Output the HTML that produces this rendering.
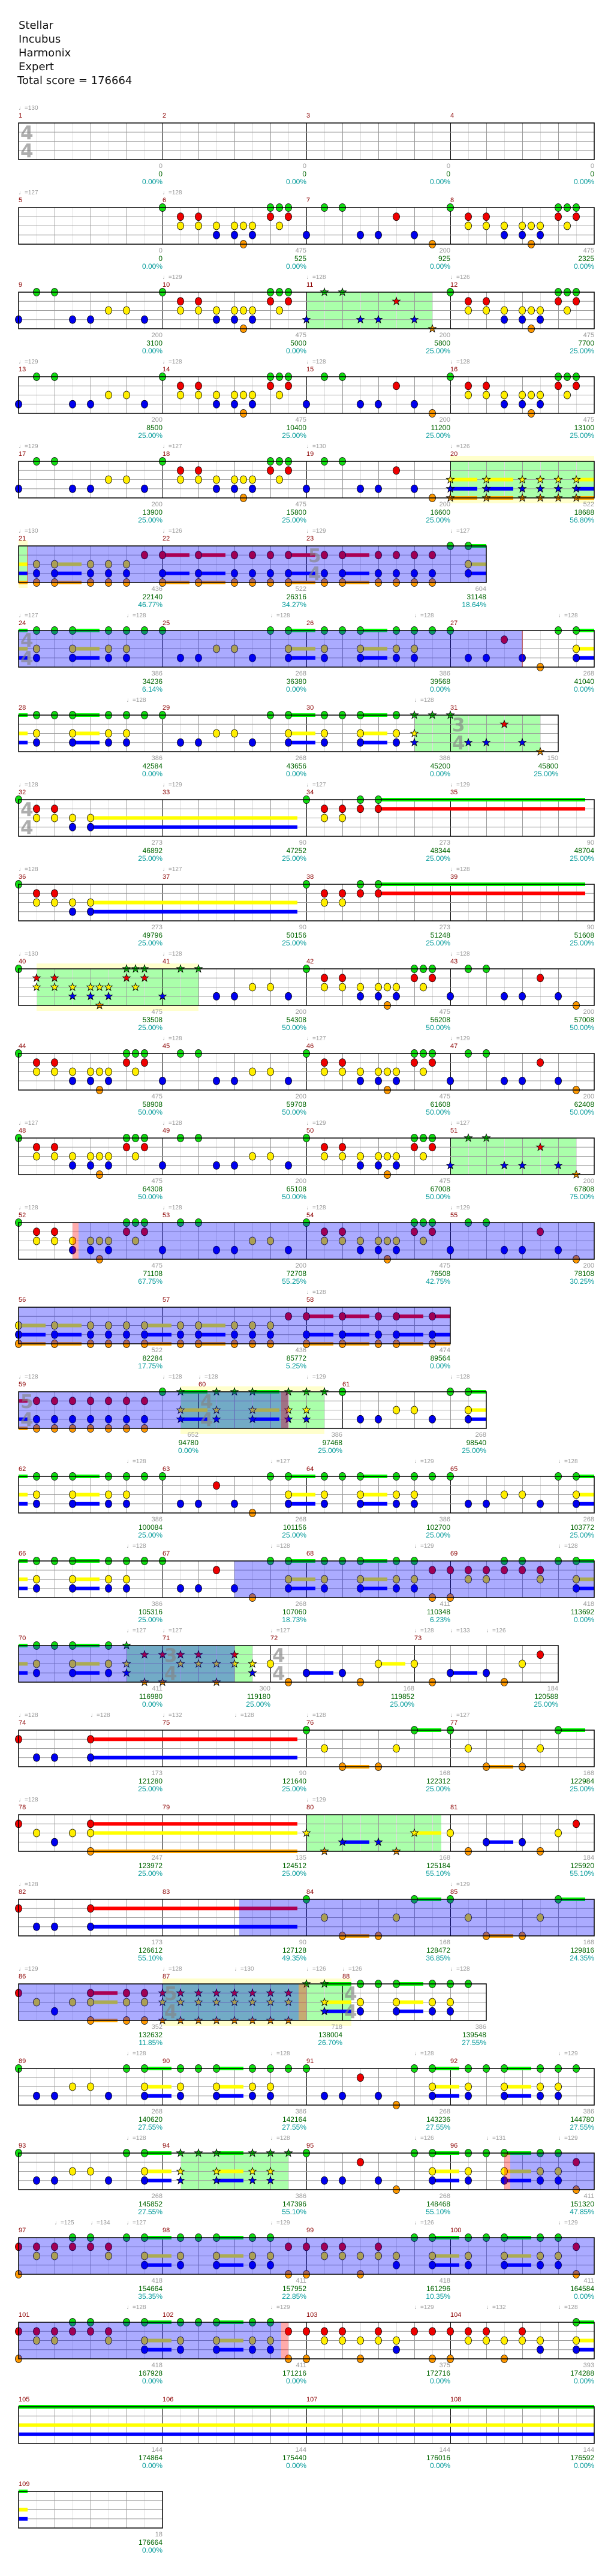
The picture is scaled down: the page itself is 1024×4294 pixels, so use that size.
<!DOCTYPE html>
<html><head><meta charset="utf-8">
<style>
html,body{margin:0;padding:0;background:#fff;}
body{width:1024px;height:4294px;position:relative;overflow:hidden;font-family:"Liberation Sans",sans-serif;}
#hdr{position:absolute;left:31px;top:31px;font:18px/23px "DejaVu Sans","Liberation Sans",sans-serif;color:#111;}
svg{position:absolute;left:0;top:0;}
.row{position:absolute;left:0;width:1024px;height:1px;}
.row span,.row p{position:absolute;white-space:nowrap;}
.t{top:-31px;font-size:10px;line-height:13px;color:#999;font-family:"Liberation Sans Narrow","Liberation Sans","DejaVu Sans",sans-serif;}
.m{top:-18px;font-size:11px;line-height:13px;color:#8b0000;font-family:"Liberation Sans Narrow","Liberation Sans",sans-serif;}
.row p{top:66px;margin:0;transform:translateX(-100%);text-align:right;font-size:11px;line-height:13px;color:#999;font-family:"Liberation Sans Narrow","Liberation Sans",sans-serif;}
.row p b{display:block;font-weight:normal;color:#006400;font-size:12px;}
.row p i{display:block;font-style:normal;color:#009999;font-size:12px;}
.ts{top:2px;font:bold 31px/30px "DejaVu Sans",sans-serif;color:rgba(130,130,130,.65);}
</style></head><body>
<svg id="g" width="1024" height="4294" xmlns="http://www.w3.org/2000/svg"></svg>
<div id="hdr">Stellar<br>Incubus<br>Harmonix<br>Expert<br><span style="margin-left:-2px">Total score = 176664</span></div>

<div class="row" style="top:205px">
<span class="t" style="left:31px">♩=130</span>
<span class="m" style="left:31px">1</span><span class="m" style="left:271px">2</span><span class="m" style="left:511px">3</span><span class="m" style="left:751px">4</span>
<span class="ts" style="left:34px">4<br>4</span>
<p style="left:271px">0<b>0</b><i>0.00%</i></p><p style="left:511px">0<b>0</b><i>0.00%</i></p><p style="left:751px">0<b>0</b><i>0.00%</i></p><p style="left:991px">0<b>0</b><i>0.00%</i></p>
</div>

<div class="row" style="top:346px">
<span class="t" style="left:31px">♩=127</span><span class="t" style="left:271px">♩=128</span>
<span class="m" style="left:31px">5</span><span class="m" style="left:271px">6</span><span class="m" style="left:511px">7</span><span class="m" style="left:751px">8</span>
<p style="left:271px">0<b>0</b><i>0.00%</i></p><p style="left:511px">475<b>525</b><i>0.00%</i></p><p style="left:751px">200<b>925</b><i>0.00%</i></p><p style="left:991px">475<b>2325</b><i>0.00%</i></p>
</div>

<div class="row" style="top:487px">
<span class="t" style="left:271px">♩=129</span><span class="t" style="left:511px">♩=128</span><span class="t" style="left:751px">♩=126</span>
<span class="m" style="left:31px">9</span><span class="m" style="left:271px">10</span><span class="m" style="left:511px">11</span><span class="m" style="left:751px">12</span>
<p style="left:271px">200<b>3100</b><i>0.00%</i></p><p style="left:511px">475<b>5000</b><i>0.00%</i></p><p style="left:751px">200<b>5800</b><i>25.00%</i></p><p style="left:991px">475<b>7700</b><i>25.00%</i></p>
</div>

<div class="row" style="top:628px">
<span class="t" style="left:31px">♩=129</span><span class="t" style="left:271px">♩=128</span><span class="t" style="left:511px">♩=128</span><span class="t" style="left:751px">♩=128</span>
<span class="m" style="left:31px">13</span><span class="m" style="left:271px">14</span><span class="m" style="left:511px">15</span><span class="m" style="left:751px">16</span>
<p style="left:271px">200<b>8500</b><i>25.00%</i></p><p style="left:511px">475<b>10400</b><i>25.00%</i></p><p style="left:751px">200<b>11200</b><i>25.00%</i></p><p style="left:991px">475<b>13100</b><i>25.00%</i></p>
</div>

<div class="row" style="top:769px">
<span class="t" style="left:31px">♩=129</span><span class="t" style="left:271px">♩=127</span><span class="t" style="left:511px">♩=130</span><span class="t" style="left:751px">♩=126</span>
<span class="m" style="left:31px">17</span><span class="m" style="left:271px">18</span><span class="m" style="left:511px">19</span><span class="m" style="left:751px">20</span>
<p style="left:271px">200<b>13900</b><i>25.00%</i></p><p style="left:511px">475<b>15800</b><i>25.00%</i></p><p style="left:751px">200<b>16600</b><i>25.00%</i></p><p style="left:991px">522<b>18688</b><i>56.80%</i></p>
</div>

<div class="row" style="top:910px">
<span class="t" style="left:31px">♩=130</span><span class="t" style="left:271px">♩=126</span><span class="t" style="left:511px">♩=129</span><span class="t" style="left:751px">♩=127</span>
<span class="m" style="left:31px">21</span><span class="m" style="left:271px">22</span><span class="m" style="left:511px">23</span>
<span class="ts" style="left:514px">5<br>4</span>
<p style="left:271px">436<b>22140</b><i>46.77%</i></p><p style="left:511px">522<b>26316</b><i>34.27%</i></p><p style="left:811px">604<b>31148</b><i>18.64%</i></p>
</div>

<div class="row" style="top:1051px">
<span class="t" style="left:31px">♩=127</span><span class="t" style="left:211px">♩=128</span><span class="t" style="left:451px">♩=128</span><span class="t" style="left:691px">♩=128</span><span class="t" style="left:931px">♩=128</span>
<span class="m" style="left:31px">24</span><span class="m" style="left:271px">25</span><span class="m" style="left:511px">26</span><span class="m" style="left:751px">27</span>
<span class="ts" style="left:34px">4<br>4</span>
<p style="left:271px">386<b>34236</b><i>6.14%</i></p><p style="left:511px">268<b>36380</b><i>0.00%</i></p><p style="left:751px">386<b>39568</b><i>0.00%</i></p><p style="left:991px">268<b>41040</b><i>0.00%</i></p>
</div>

<div class="row" style="top:1192px">
<span class="t" style="left:211px">♩=128</span><span class="t" style="left:691px">♩=128</span>
<span class="m" style="left:31px">28</span><span class="m" style="left:271px">29</span><span class="m" style="left:511px">30</span><span class="m" style="left:751px">31</span>
<span class="ts" style="left:754px">3<br>4</span>
<p style="left:271px">386<b>42584</b><i>0.00%</i></p><p style="left:511px">268<b>43656</b><i>0.00%</i></p><p style="left:751px">386<b>45200</b><i>0.00%</i></p><p style="left:931px">150<b>45800</b><i>25.00%</i></p>
</div>

<div class="row" style="top:1333px">
<span class="t" style="left:31px">♩=128</span><span class="t" style="left:271px">♩=129</span><span class="t" style="left:511px">♩=127</span><span class="t" style="left:751px">♩=129</span>
<span class="m" style="left:31px">32</span><span class="m" style="left:271px">33</span><span class="m" style="left:511px">34</span><span class="m" style="left:751px">35</span>
<span class="ts" style="left:34px">4<br>4</span>
<p style="left:271px">273<b>46892</b><i>25.00%</i></p><p style="left:511px">90<b>47252</b><i>25.00%</i></p><p style="left:751px">273<b>48344</b><i>25.00%</i></p><p style="left:991px">90<b>48704</b><i>25.00%</i></p>
</div>

<div class="row" style="top:1474px">
<span class="t" style="left:31px">♩=128</span><span class="t" style="left:271px">♩=127</span><span class="t" style="left:751px">♩=128</span>
<span class="m" style="left:31px">36</span><span class="m" style="left:271px">37</span><span class="m" style="left:511px">38</span><span class="m" style="left:751px">39</span>
<p style="left:271px">273<b>49796</b><i>25.00%</i></p><p style="left:511px">90<b>50156</b><i>25.00%</i></p><p style="left:751px">273<b>51248</b><i>25.00%</i></p><p style="left:991px">90<b>51608</b><i>25.00%</i></p>
</div>

<div class="row" style="top:1615px">
<span class="t" style="left:31px">♩=130</span><span class="t" style="left:271px">♩=128</span><span class="t" style="left:751px">♩=128</span>
<span class="m" style="left:31px">40</span><span class="m" style="left:271px">41</span><span class="m" style="left:511px">42</span><span class="m" style="left:751px">43</span>
<p style="left:271px">475<b>53508</b><i>25.00%</i></p><p style="left:511px">200<b>54308</b><i>50.00%</i></p><p style="left:751px">475<b>56208</b><i>50.00%</i></p><p style="left:991px">200<b>57008</b><i>50.00%</i></p>
</div>

<div class="row" style="top:1756px">
<span class="t" style="left:271px">♩=128</span><span class="t" style="left:511px">♩=127</span><span class="t" style="left:751px">♩=129</span>
<span class="m" style="left:31px">44</span><span class="m" style="left:271px">45</span><span class="m" style="left:511px">46</span><span class="m" style="left:751px">47</span>
<p style="left:271px">475<b>58908</b><i>50.00%</i></p><p style="left:511px">200<b>59708</b><i>50.00%</i></p><p style="left:751px">475<b>61608</b><i>50.00%</i></p><p style="left:991px">200<b>62408</b><i>50.00%</i></p>
</div>

<div class="row" style="top:1897px">
<span class="t" style="left:31px">♩=127</span><span class="t" style="left:271px">♩=128</span><span class="t" style="left:511px">♩=129</span><span class="t" style="left:751px">♩=127</span>
<span class="m" style="left:31px">48</span><span class="m" style="left:271px">49</span><span class="m" style="left:511px">50</span><span class="m" style="left:751px">51</span>
<p style="left:271px">475<b>64308</b><i>50.00%</i></p><p style="left:511px">200<b>65108</b><i>50.00%</i></p><p style="left:751px">475<b>67008</b><i>50.00%</i></p><p style="left:991px">200<b>67808</b><i>75.00%</i></p>
</div>

<div class="row" style="top:2038px">
<span class="t" style="left:31px">♩=128</span><span class="t" style="left:271px">♩=128</span><span class="t" style="left:511px">♩=128</span><span class="t" style="left:751px">♩=129</span>
<span class="m" style="left:31px">52</span><span class="m" style="left:271px">53</span><span class="m" style="left:511px">54</span><span class="m" style="left:751px">55</span>
<p style="left:271px">475<b>71108</b><i>67.75%</i></p><p style="left:511px">200<b>72708</b><i>55.25%</i></p><p style="left:751px">475<b>76508</b><i>42.75%</i></p><p style="left:991px">200<b>78108</b><i>30.25%</i></p>
</div>

<div class="row" style="top:2179px">
<span class="t" style="left:511px">♩=128</span>
<span class="m" style="left:31px">56</span><span class="m" style="left:271px">57</span><span class="m" style="left:511px">58</span>
<p style="left:271px">522<b>82284</b><i>17.75%</i></p><p style="left:511px">436<b>85772</b><i>5.25%</i></p><p style="left:751px">474<b>89564</b><i>0.00%</i></p>
</div>

<div class="row" style="top:2320px">
<span class="t" style="left:31px">♩=128</span><span class="t" style="left:271px">♩=128</span><span class="t" style="left:331px">♩=128</span><span class="t" style="left:511px">♩=129</span><span class="t" style="left:751px">♩=128</span>
<span class="m" style="left:31px">59</span><span class="m" style="left:331px">60</span><span class="m" style="left:571px">61</span>
<span class="ts" style="left:34px">5<br>4</span><span class="ts" style="left:334px">4<br>4</span>
<p style="left:331px">652<b>94780</b><i>0.00%</i></p><p style="left:571px">386<b>97468</b><i>25.00%</i></p><p style="left:811px">268<b>98540</b><i>25.00%</i></p>
</div>

<div class="row" style="top:2461px">
<span class="t" style="left:211px">♩=128</span><span class="t" style="left:451px">♩=127</span><span class="t" style="left:691px">♩=129</span><span class="t" style="left:931px">♩=128</span>
<span class="m" style="left:31px">62</span><span class="m" style="left:271px">63</span><span class="m" style="left:511px">64</span><span class="m" style="left:751px">65</span>
<p style="left:271px">386<b>100084</b><i>25.00%</i></p><p style="left:511px">268<b>101156</b><i>25.00%</i></p><p style="left:751px">386<b>102700</b><i>25.00%</i></p><p style="left:991px">268<b>103772</b><i>25.00%</i></p>
</div>

<div class="row" style="top:2602px">
<span class="t" style="left:211px">♩=128</span><span class="t" style="left:451px">♩=128</span><span class="t" style="left:691px">♩=129</span><span class="t" style="left:931px">♩=128</span>
<span class="m" style="left:31px">66</span><span class="m" style="left:271px">67</span><span class="m" style="left:511px">68</span><span class="m" style="left:751px">69</span>
<p style="left:271px">386<b>105316</b><i>25.00%</i></p><p style="left:511px">268<b>107060</b><i>18.73%</i></p><p style="left:751px">411<b>110348</b><i>6.23%</i></p><p style="left:991px">418<b>113692</b><i>0.00%</i></p>
</div>

<div class="row" style="top:2743px">
<span class="t" style="left:211px">♩=127</span><span class="t" style="left:271px">♩=127</span><span class="t" style="left:451px">♩=127</span><span class="t" style="left:691px">♩=128</span><span class="t" style="left:751px">♩=133</span><span class="t" style="left:811px">♩=126</span>
<span class="m" style="left:31px">70</span><span class="m" style="left:271px">71</span><span class="m" style="left:451px">72</span><span class="m" style="left:691px">73</span>
<span class="ts" style="left:274px">3<br>4</span><span class="ts" style="left:454px">4<br>4</span>
<p style="left:271px">411<b>116980</b><i>0.00%</i></p><p style="left:451px">300<b>119180</b><i>25.00%</i></p><p style="left:691px">168<b>119852</b><i>25.00%</i></p><p style="left:931px">184<b>120588</b><i>25.00%</i></p>
</div>

<div class="row" style="top:2884px">
<span class="t" style="left:31px">♩=128</span><span class="t" style="left:151px">♩=128</span><span class="t" style="left:271px">♩=132</span><span class="t" style="left:391px">♩=128</span><span class="t" style="left:511px">♩=128</span><span class="t" style="left:751px">♩=127</span>
<span class="m" style="left:31px">74</span><span class="m" style="left:271px">75</span><span class="m" style="left:511px">76</span><span class="m" style="left:751px">77</span>
<p style="left:271px">173<b>121280</b><i>25.00%</i></p><p style="left:511px">90<b>121640</b><i>25.00%</i></p><p style="left:751px">168<b>122312</b><i>25.00%</i></p><p style="left:991px">168<b>122984</b><i>25.00%</i></p>
</div>

<div class="row" style="top:3025px">
<span class="t" style="left:31px">♩=128</span><span class="t" style="left:511px">♩=129</span>
<span class="m" style="left:31px">78</span><span class="m" style="left:271px">79</span><span class="m" style="left:511px">80</span><span class="m" style="left:751px">81</span>
<p style="left:271px">247<b>123972</b><i>25.00%</i></p><p style="left:511px">135<b>124512</b><i>25.00%</i></p><p style="left:751px">168<b>125184</b><i>55.10%</i></p><p style="left:991px">184<b>125920</b><i>55.10%</i></p>
</div>

<div class="row" style="top:3166px">
<span class="t" style="left:31px">♩=128</span><span class="t" style="left:751px">♩=129</span>
<span class="m" style="left:31px">82</span><span class="m" style="left:271px">83</span><span class="m" style="left:511px">84</span><span class="m" style="left:751px">85</span>
<p style="left:271px">173<b>126612</b><i>55.10%</i></p><p style="left:511px">90<b>127128</b><i>49.35%</i></p><p style="left:751px">168<b>128472</b><i>36.85%</i></p><p style="left:991px">168<b>129816</b><i>24.35%</i></p>
</div>

<div class="row" style="top:3307px">
<span class="t" style="left:31px">♩=129</span><span class="t" style="left:271px">♩=128</span><span class="t" style="left:391px">♩=130</span><span class="t" style="left:511px">♩=126</span><span class="t" style="left:571px">♩=126</span><span class="t" style="left:751px">♩=128</span>
<span class="m" style="left:31px">86</span><span class="m" style="left:271px">87</span><span class="m" style="left:571px">88</span>
<span class="ts" style="left:274px">5<br>4</span><span class="ts" style="left:574px">4<br>4</span>
<p style="left:271px">352<b>132632</b><i>11.85%</i></p><p style="left:571px">718<b>138004</b><i>26.70%</i></p><p style="left:811px">386<b>139548</b><i>27.55%</i></p>
</div>

<div class="row" style="top:3448px">
<span class="t" style="left:211px">♩=128</span><span class="t" style="left:451px">♩=128</span><span class="t" style="left:691px">♩=128</span><span class="t" style="left:931px">♩=129</span>
<span class="m" style="left:31px">89</span><span class="m" style="left:271px">90</span><span class="m" style="left:511px">91</span><span class="m" style="left:751px">92</span>
<p style="left:271px">268<b>140620</b><i>27.55%</i></p><p style="left:511px">386<b>142164</b><i>27.55%</i></p><p style="left:751px">268<b>143236</b><i>27.55%</i></p><p style="left:991px">386<b>144780</b><i>27.55%</i></p>
</div>

<div class="row" style="top:3589px">
<span class="t" style="left:211px">♩=128</span><span class="t" style="left:451px">♩=128</span><span class="t" style="left:691px">♩=126</span><span class="t" style="left:811px">♩=131</span><span class="t" style="left:931px">♩=129</span>
<span class="m" style="left:31px">93</span><span class="m" style="left:271px">94</span><span class="m" style="left:511px">95</span><span class="m" style="left:751px">96</span>
<p style="left:271px">268<b>145852</b><i>27.55%</i></p><p style="left:511px">386<b>147396</b><i>55.10%</i></p><p style="left:751px">268<b>148468</b><i>55.10%</i></p><p style="left:991px">411<b>151320</b><i>47.85%</i></p>
</div>

<div class="row" style="top:3730px">
<span class="t" style="left:91px">♩=125</span><span class="t" style="left:151px">♩=134</span><span class="t" style="left:211px">♩=127</span><span class="t" style="left:451px">♩=129</span><span class="t" style="left:691px">♩=126</span><span class="t" style="left:931px">♩=129</span>
<span class="m" style="left:31px">97</span><span class="m" style="left:271px">98</span><span class="m" style="left:511px">99</span><span class="m" style="left:751px">100</span>
<p style="left:271px">418<b>154664</b><i>35.35%</i></p><p style="left:511px">411<b>157952</b><i>22.85%</i></p><p style="left:751px">418<b>161296</b><i>10.35%</i></p><p style="left:991px">411<b>164584</b><i>0.00%</i></p>
</div>

<div class="row" style="top:3871px">
<span class="t" style="left:211px">♩=128</span><span class="t" style="left:451px">♩=129</span><span class="t" style="left:691px">♩=129</span><span class="t" style="left:811px">♩=132</span><span class="t" style="left:931px">♩=128</span>
<span class="m" style="left:31px">101</span><span class="m" style="left:271px">102</span><span class="m" style="left:511px">103</span><span class="m" style="left:751px">104</span>
<p style="left:271px">418<b>167928</b><i>0.00%</i></p><p style="left:511px">411<b>171216</b><i>0.00%</i></p><p style="left:751px">375<b>172716</b><i>0.00%</i></p><p style="left:991px">393<b>174288</b><i>0.00%</i></p>
</div>

<div class="row" style="top:4012px">
<span class="m" style="left:31px">105</span><span class="m" style="left:271px">106</span><span class="m" style="left:511px">107</span><span class="m" style="left:751px">108</span>
<p style="left:271px">144<b>174864</b><i>0.00%</i></p><p style="left:511px">144<b>175440</b><i>0.00%</i></p><p style="left:751px">144<b>176016</b><i>0.00%</i></p><p style="left:991px">144<b>176592</b><i>0.00%</i></p>
</div>

<div class="row" style="top:4153px">
<span class="m" style="left:31px">109</span>
<p style="left:271px">18<b>176664</b><i>0.00%</i></p>
</div>

<script>
(function(){
var A="0G 2RY 4RY 6YB 8YB 9YO 10YB 12GR 13GY 14GR",
B="0B 2G 4G 6B 8B 10R 12B 14O",
C="0B 2G 4G 6B 8B 10Y 12Y 14B",
D="2GYB 4G 6GYB~3 10GYB 12GYB 14G",
DR="2GYB 4G 6GYB~3 10GYB 12GYB 14RO",
E="0G 2B 4B 6Y 8Y 10B 12G 14GYB~3",
E2="0G 2B 4B 6R 8B 10O 12G 14GYB~3",
S="_0GYB~1 ";
function st(p){return p.split(' ').map(function(t){return '*'+t}).join(' ');}
var W4=[240,240,240,240];
var Q1="0RO 2RY 4RY 6GR 8GR 10RY 12G 14GYB~3";
var rows=[
{w:W4,n:['','','',''],r:[]},
{w:W4,n:['',A,B,A],r:[]},
{w:W4,n:[C,A,st(B),A],r:[['g',480,690]]},
{w:W4,n:[C,A,B,A],r:[]},
{w:W4,n:[C,A,B,"*0YBO~3 *4YBO~3 *8YBO *10YBO *12YBO *14YBO~2"],r:[['y',720,960],['g',720,960]]},
{w:[240,240,300],n:["_0YBO~1 2YBO 4YBO~3 8YBO 10YBO 12YBO 14R","0RBO~3 4RBO~3 8RBO 10RBO 12RBO 14RBO~3","2RBO 4RBO~3 8RBO 10RBO 12RBO 14RBO 16G 18GYB~2"],r:[['y',0,15],['g',0,15],['sp',15,780],['r',14,16]]},
{w:W4,n:[S+D,E,D,E2],r:[['sp',0,840],['r',839,841]]},
{w:[240,240,240,180],n:[S+D,E,"2GYB 4G 6GYB~3 10GYB *12GYB *14G","*0G *2B *4B *6R *8B *10O"],r:[['g',660,870]]},
{w:W4,n:["0G 2RY 4RY 6YB 8YB~23","","0G 2RY 4RY 6GR 8GR~23",""],r:[]},
{w:W4,n:["0G 2RY 4RY 6YB 8YB~23","","0G 2RY 4RY 6GR 8GR~23",""],r:[]},
{w:W4,n:["0G *2RY *4RY *6YB *8YB *9YO *10YB *12GR *13GY *14GR","*0B *2G *4G 6B 8B 10Y 12Y 14B",A,B],r:[['y',30,300],['g',30,300]]},
{w:W4,n:[A,C,A,B],r:[]},
{w:W4,n:[A,C,A,st(B)],r:[['g',720,930]]},
{w:W4,n:[A,C,A,B],r:[['r',90,100],['sp',100,960]]},
{w:[240,240,240],n:["0YBO~3 4YBO~3 8YBO 10YBO 12YBO 14YBO~3","2YBO 4YBO~3 8YBO 10YBO 12YBO 14R","0RBO~3 4RBO~3 8RBO 10RBO~3 14RBO~2"],r:[['sp',0,720]]},
{w:[300,240,240],n:["_0RBO~1 2RBO 4RBO 6RBO 8RBO 10RBO 12RBO 14RBO 16G *18GYB~3","*2GYB *4G *6GYB~3 *10GYB *12GYB *14G",E],r:[['y',270,510],['g',270,510],['sp',0,450],['r',438,450]]},
{w:W4,n:[S+D,E2,D,E],r:[]},
{w:W4,n:[S+D,E2,DR,Q1],r:[['sp',360,960]]},
{w:[240,180,240,240],n:["_0GYB~1 2GYB 4G 6GYB~3 10GYB *12GYB *14RO","*0RO *2RY *4RY *6YO *8RY *10YB","0Y 2O 4B~3 8B 10O 12Y~3","0Y 2O 4B~3 8B 10O 12Y 14R"],r:[['sp',0,360],['g',180,390]]},
{w:W4,n:["0R 2B 4B 8RB~23","","0G 2Y 4O~3 8O 10Y 12G~3","0G 2Y 4O~3 8O 10Y 12G~3"],r:[]},
{w:W4,n:["0R 2Y 4B 6Y 8RYO~23","","*0Y *2O *4B~3 *8B *10O *12Y~3","0Y 2O 4B~3 8B 10O 12Y 14R"],r:[['g',480,705]]},
{w:W4,n:["0R 2B 4B 8RB~23","","0G 2Y 4O~3 8O 10Y 12G~3","0G 2Y 4O~3 8O 10Y 12G~3"],r:[['sp',368,960]]},
{w:[240,300,240],n:["0R 2Y 4B 6Y 8RYO~3 12RYO 14RYO","*0RYO *2RYO *4RYO *6RYO *8RYO *10RYO *12RYO *14RYO *16G *18GYB~3","2GYB 4G 6GYB~3 10GYB 12GYB 14G"],r:[['y',240,555],['g',240,555],['sp',0,467],['r',467,480]]},
{w:W4,n:[E,D,E2,D],r:[]},
{w:W4,n:[E,"*2GYB *4G *6GYB~3 *10GYB *12GYB *14G",E2,DR],r:[['g',270,450],['r',810,820],['sp',820,960]]},
{w:W4,n:[Q1,DR,"0RO 2RY 4RY 6YO 8RY 10YB 12G 14GYB~3",DR],r:[['sp',0,960]]},
{w:W4,n:[Q1,DR,"0RO 2RY 4RY 6YO 8RY 10YB 12R 14RO","0RO 2RY 4RY 6YO 8RY 10YB 14GYB~2"],r:[['sp',0,438],['r',438,450]]},
{w:W4,n:["_0GYB~64","","",""],r:[]},
{w:[240],n:["_0GYB~1"],r:[]}
];
var LY={G:0,R:15.25,Y:30.5,B:45.75,O:61};
var HC={G:'#11dd11',R:'#ee0000',Y:'#ffee00',B:'#0000ee',O:'#ff9900'};
var SC={G:'#00ff00',R:'#ff0000',Y:'#ffff00',B:'#0000ff',O:'#ffa500'};
var s='';
function rect(x,y,w,h,f){return '<rect x="'+x+'" y="'+y+'" width="'+w+'" height="'+h+'" fill="'+f+'"/>';}
function line(x1,y1,x2,y2,c,sw){return '<line x1="'+x1+'" y1="'+y1+'" x2="'+x2+'" y2="'+y2+'" stroke="'+c+'" stroke-width="'+(sw||1)+'"/>';}
function star(cx,cy,f){var p=[];for(var k=0;k<10;k++){var r=k%2?2.8:6.8;var a=-Math.PI/2+k*Math.PI/5;p.push((cx+r*Math.cos(a)).toFixed(1)+','+(cy+r*Math.sin(a)).toFixed(1));}
 return '<polygon points="'+p.join(' ')+'" fill="'+f+'" stroke="#000" stroke-width="0.8"/>';}
rows.forEach(function(R,i){
 var T=205+141*i,X0=31,W=R.w.reduce(function(a,b){return a+b},0);
 R.r.forEach(function(r){if(r[0]=='y')s+=rect(X0+r[1],T-9,r[2]-r[1],79,'#ffffcc');});
 R.r.forEach(function(r){if(r[0]=='g')s+=rect(X0+r[1],T,r[2]-r[1],61,'#aaffaa');});
 var x=X0;
 R.w.forEach(function(w,mi){
   for(var k=30;k<w;k+=30){s+=line(x+k+0.5,T,x+k+0.5,T+61,(k%60)?'#dddddd':'#999999');}
   if(mi>0)s+=line(x+0.5,T,x+0.5,T+61,'#000');
   x+=w;});
 for(var j=1;j<4;j++)s+=line(X0,T+15.25*j,X0+W,T+15.25*j,'#999999');
 // notes
 var sus='',heads='';
 x=X0;
 R.w.forEach(function(w,mi){
   var str=R.n[mi]||'';
   str.split(' ').forEach(function(tok){
     var m=tok.match(/^(\*?)(_?)(\d+)([GRYBO]+)(?:~(\d+))?$/);if(!m)return;
     var nx=x+parseInt(m[3])*15;
     m[4].split('').forEach(function(L){
       var y=T+LY[L];
       if(m[5]){var e=Math.min(nx+parseInt(m[5])*15,X0+W);sus+=rect(nx,y-3,e-nx,6,SC[L]);}
       if(!m[2]){ if(m[1])heads+=star(nx,y,HC[L]); else heads+='<ellipse cx="'+nx+'" cy="'+y+'" rx="5.5" ry="6.5" fill="'+HC[L]+'" stroke="#000" stroke-width="0.8"/>';}
     });
   });
   x+=w;});
 s+=sus+heads;
 R.r.forEach(function(r){
   if(r[0]=='sp')s+=rect(X0+r[1],T,r[2]-r[1],61,'rgba(0,0,255,0.33)');
   if(r[0]=='r')s+=rect(X0+r[1],T,r[2]-r[1],61,'rgba(255,0,0,0.33)');});
 s+='<rect x="'+X0+'" y="'+T+'" width="'+W+'" height="61" fill="none" stroke="#000" stroke-width="1.5"/>';
});
document.getElementById('g').innerHTML=s;
})();
</script>
</body></html>
